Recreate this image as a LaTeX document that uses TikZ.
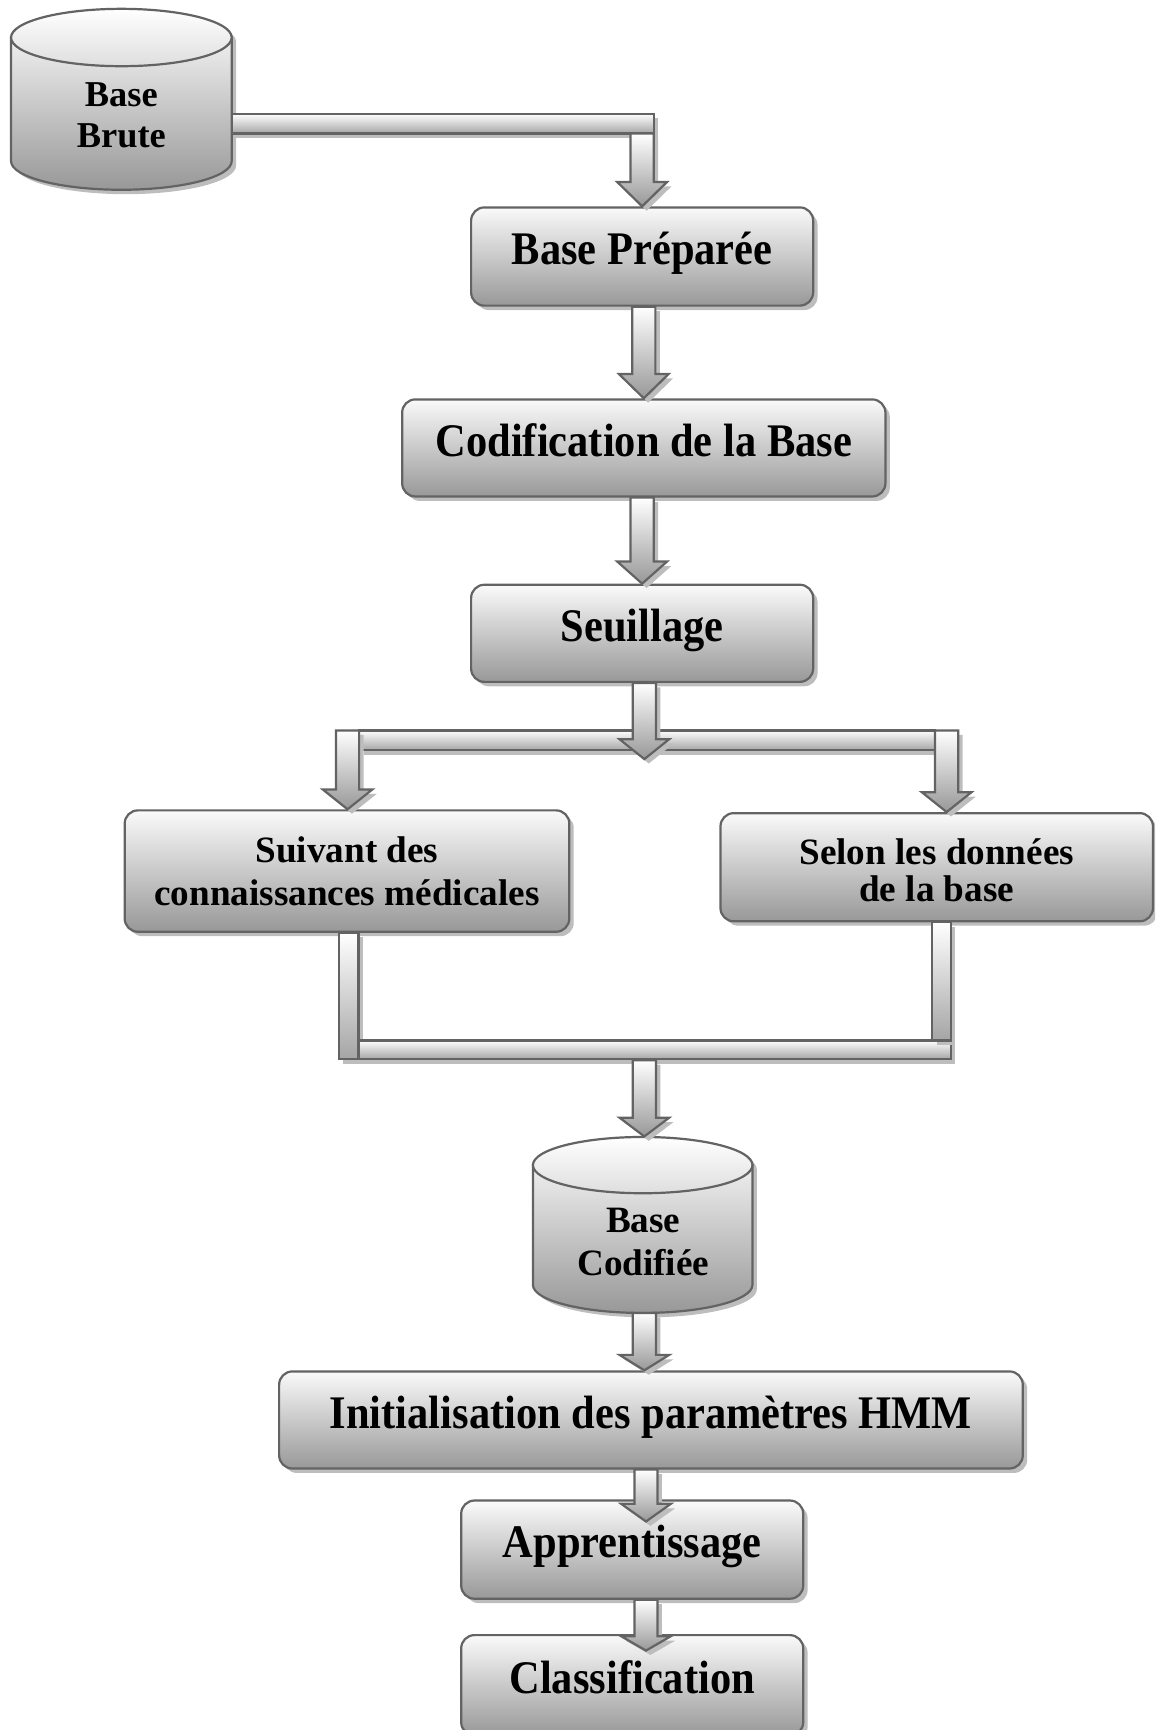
\documentclass[tikz,border=0pt]{standalone}
\usepackage{fontspec}
\setmainfont{Liberation Serif}
\usepackage{graphicx}
\usetikzlibrary{calc,shadows}

\definecolor{edgec}{HTML}{636363}
\definecolor{shadc}{HTML}{BDBDBD}
\definecolor{boxtop}{HTML}{FAFAFA}
\definecolor{boxbot}{HTML}{989898}
\definecolor{cyltop}{HTML}{EFEFEF}
\definecolor{barbot}{HTML}{A5A5A5}

\newcommand\bigsize{\fontsize{38.5pt}{46pt}\selectfont\bfseries}
\newcommand\smallsize{\fontsize{33.7pt}{38.5pt}\selectfont\bfseries}
\newcommand\tallify[1]{\scalebox{1}[1.1]{#1}}

\tikzset{
  outl/.style={draw=edgec, line width=2pt, line join=miter},
  dshadow/.style={drop shadow={shadow xshift=4pt, shadow yshift=-4pt, fill=shadc, opacity=1}},
  procbox/.style={outl, rounded corners=12pt, top color=boxtop, bottom color=boxbot, dshadow, inner sep=0pt},
  bigtext/.style={font=\bigsize, text height=30pt, text depth=15pt},
  twoline/.style={font=\smallsize, align=center, inner sep=0pt},
  barpart/.style={outl, top color=white, bottom color=barbot, dshadow},
  blockarrow/.style={outl, top color=white, bottom color=boxbot, dshadow},
}

% block arrow: shaft from (#2) level down to tip (#3), head length #1
\newcommand\blockarr[3][20]{%
  \path[blockarrow] ($(#3|-#2)+(-10.5,0)$) -- ($(#3)+(-10.5,-#1)$) -- ($(#3)+(-22.5,-#1)$) -- (#3) -- ($(#3)+(22.5,-#1)$) -- ($(#3)+(10.5,-#1)$) -- ($(#3|-#2)+(10.5,0)$) -- cycle;}

% cylinder: cx, top ellipse centre y, bottom ellipse centre y, rx, ry
\newcommand\drum[5]{%
  \begin{scope}[xshift=4pt,yshift=-4pt]
    \fill[shadc] ({#1-#4},#2) -- ({#1-#4},#3) arc[start angle=180,end angle=360,x radius=#4pt,y radius=#5pt] -- ({#1+#4},#2) arc[start angle=0,end angle=180,x radius=#4pt,y radius=#5pt] -- cycle;
  \end{scope}
  \path[outl, top color=cyltop, bottom color=boxbot] ({#1-#4},#2) -- ({#1-#4},#3) arc[start angle=180,end angle=360,x radius=#4pt,y radius=#5pt] -- ({#1+#4},#2) -- cycle;
  \path[outl, top color=white, bottom color=cyltop!85!gray] (#1,#2) ellipse[x radius=#4pt, y radius=#5pt];
}

\begin{document}
\begin{tikzpicture}[x=1pt,y=-1pt]
\useasboundingbox (0,0) rectangle (1047,1568);
\clip (0,0) rectangle (1047,1568);

% ---- shapes ----
\drum{110}{34}{146}{100}{26}
\node (bb) [twoline, font=\fontsize{33pt}{38pt}\selectfont\bfseries, minimum width=200pt] at (110,104.5) {Base\\Brute};

\node (bp) [procbox, bigtext, minimum width=310pt, minimum height=89pt] at (582,232.5) {\tallify{Base Préparée}};
\node (cod) [procbox, bigtext, minimum width=438pt, minimum height=88pt] at (583.5,406) {\tallify{Codification de la Base}};
\node (seu) [procbox, bigtext, minimum width=310pt, minimum height=88pt] at (582,574) {\tallify{Seuillage}};
\node (sui) [procbox, twoline, minimum width=403pt, minimum height=110pt] at (314.5,789.5) {Suivant des\\connaissances médicales};
\node (sel) [procbox, twoline, minimum width=392pt, minimum height=98pt] at (849,786) {\rule{0pt}{29pt}Selon les données\\[-5pt]de la base};

\drum{582.5}{1056}{1164.5}{99.5}{25.5}
\node (bc) [twoline, minimum width=199pt] at (583,1125.5) {Base\\Codifiée};

\node (init) [procbox, bigtext, minimum width=674pt, minimum height=88pt] at (590,1287) {\tallify{Initialisation des paramètres HMM}};
\node (app) [procbox, bigtext, minimum width=310pt, minimum height=89pt] at (573,1404.5) {\tallify{Apprentissage}};
\node (cla) [procbox, bigtext, minimum width=310pt, minimum height=91pt] at (573,1527.5) {\tallify{Classification}};

% ---- connectors ----
% Base Brute -> Base Preparee
\coordinate (j1) at (582,112);
\path[barpart] ($(bb.east|-j1)+(0,-9)$) rectangle ($(j1)+(10.5,9)$);
\coordinate (j1b) at ($(j1)+(0,9)$);
\blockarr[22]{j1b}{bp.north}

\blockarr[22]{bp.south}{cod.north}
\blockarr[20]{cod.south}{seu.north}

% split after Seuillage
\coordinate (sl) at (315,662);
\coordinate (sr) at (858,662);
\path[barpart] ($(sl)+(10.5,0)$) rectangle ($(sr)+(-10.5,18)$);
\coordinate (tl) at (sl|-sui.north);
\coordinate (tr) at (sr|-sel.north);
\blockarr[18]{sl}{tl}
\blockarr[18]{sr}{tr}
\coordinate (sm) at ($(seu.south)+(2,69)$);
\blockarr[18]{seu.south}{sm}

% merge into Base Codifiee
\coordinate (ml) at (316,960);
\coordinate (mr) at (853.5,943);
\path[barpart] ($(ml|-sui.south)+(-9,0)$) rectangle ($(ml)+(9,0)$);
\path[barpart] ($(ml)+(9,-17)$) rectangle ($(mr)+(8.5,17)$);
\path[barpart] ($(mr|-sel.south)+(-8.5,0)$) rectangle ($(mr)+(8.5,0)$);
\coordinate (mb) at (584,961);
\coordinate (bctop) at ($(bc)+(1,-95.5)$);
\blockarr[17]{mb}{bctop}

% Base Codifiee -> Initialisation -> Apprentissage -> Classification
\coordinate (bcbot) at ($(bc)+(1,64.5)$);
\coordinate (ti) at (bcbot|-init.north);
\blockarr[14]{bcbot}{ti}
\coordinate (ta) at ($(app.north)+(12.5,20)$);
\blockarr[16]{init.south}{ta}
\coordinate (tc) at ($(cla.north)+(12.5,15)$);
\blockarr[13]{app.south}{tc}
\end{tikzpicture}
\end{document}
